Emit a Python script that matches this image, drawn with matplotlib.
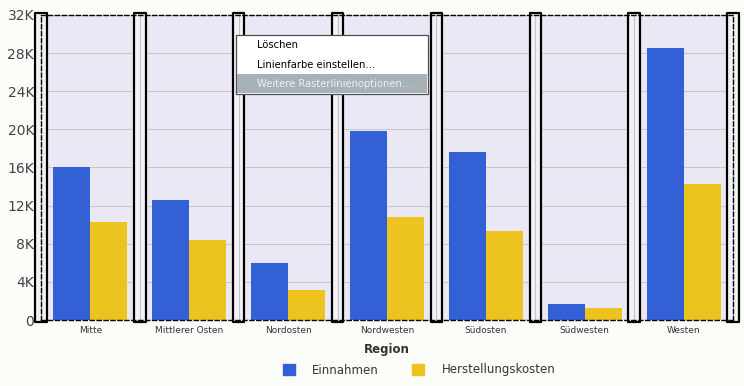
import matplotlib
matplotlib.use("Agg")
import matplotlib.pyplot as plt
from matplotlib.patches import Rectangle
import matplotlib.transforms as mtransforms
import numpy as np

regions = ["Mitte", "Mittlerer Osten", "Nordosten", "Nordwesten", "Südosten", "Südwesten", "Westen"]
einnahmen = [16000, 12600, 6000, 19800, 17600, 1700, 28500]
kosten = [10300, 8400, 3150, 10800, 9300, 1250, 14300]
yticks = [0, 4000, 8000, 12000, 16000, 20000, 24000, 28000, 32000]
ytick_labels = ["0", "4K", "8K", "12K", "16K", "20K", "24K", "28K", "32K"]
menu_items = ["Löschen", "Linienfarbe einstellen…", "Weitere Rasterlinienoptionen…"]

BLUE = "#3360d5"
YELLOW = "#ecc31f"
PLOTBG = "#eae8f4"
FIGBG = "#fbfdf9"

W, H = 744, 386
fig = plt.figure(figsize=(W / 100, H / 100), dpi=100, facecolor=FIGBG)
ax = fig.add_axes([41 / W, 1 - 320 / H, 692 / W, 305 / H])
ax.set_facecolor(PLOTBG)

x = np.arange(len(regions))
bw = 0.374
ax.bar(x - bw / 2, einnahmen, width=bw, color=BLUE, zorder=3, label="Einnahmen")
ax.bar(x + bw / 2, kosten, width=bw, color=YELLOW, zorder=3, label="Herstellungskosten")

ax.set_xlim(-0.5, len(regions) - 0.5)
ax.set_ylim(0, 32000)
ax.set_yticks(yticks)
ax.set_yticklabels(ytick_labels)
ax.set_xticks(x)
ax.set_xticklabels(regions)
ax.tick_params(axis="y", labelsize=10, labelcolor="#444444", color="#888888", length=3, width=0.8, pad=2)
ax.tick_params(axis="x", labelsize=6.5, labelcolor="#333333", length=0, pad=4)
ax.yaxis.grid(True, color="#c8c8cc", linewidth=0.8, zorder=1)
ax.set_axisbelow(True)

for s in ax.spines.values():
    s.set_linestyle((0, (3, 2)))
    s.set_linewidth(1.0)
    s.set_color("black")
    s.set_zorder(7)

ax.set_xlabel("Region", fontsize=8.5, fontweight="bold", color="#333333", labelpad=6)

# selected vertical gridlines (category boundaries)
trans = mtransforms.blended_transform_factory(ax.transData, ax.transAxes)
hw = 0.058
for b in np.arange(-0.5, len(regions), 1.0):
    r = Rectangle((b - hw, -0.005), 2 * hw, 1.01, transform=trans, facecolor="#f2f1f7",
                  edgecolor="black", linewidth=1.6, joinstyle="round", zorder=5, clip_on=False)
    ax.add_patch(r)
    ax.plot([b, b], [0, 1], transform=trans, color="#c4c4ca", lw=0.8, zorder=6, clip_on=False)

# legend
handles = [Rectangle((0, 0), 1, 1, color=BLUE), Rectangle((0, 0), 1, 1, color=YELLOW)]
fig.legend(handles, ["Einnahmen", "Herstellungskosten"], loc="center", bbox_to_anchor=(419 / W, 1 - 370 / H),
           ncol=2, frameon=False, fontsize=8.5, handlelength=1.0, handleheight=1.0,
           handletextpad=1.5, columnspacing=2.8, labelcolor="#333333", borderpad=0, borderaxespad=0)

# context menu overlay
ov = fig.add_axes([0, 0, 1, 1], zorder=10)
ov.set_xlim(0, W)
ov.set_ylim(H, 0)
ov.axis("off")
ov.patch.set_alpha(0)
ov.add_patch(Rectangle((236, 35), 192, 59, facecolor="white", edgecolor="#505050", linewidth=0.9))
ov.add_patch(Rectangle((237, 74), 190, 19, facecolor="#a7b1b8", edgecolor="none"))
ys = [45.5, 64.5, 84]
cols = ["black", "black", "#eef1f3"]
for t, yy, c in zip(menu_items, ys, cols):
    ov.text(257, yy, t, fontsize=7.2, family="DejaVu Sans", color=c, va="center", ha="left")

fig.savefig("out.png", dpi=100, facecolor=FIGBG)
